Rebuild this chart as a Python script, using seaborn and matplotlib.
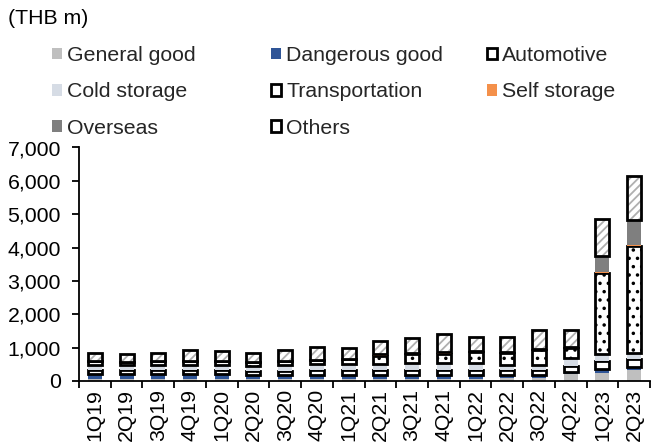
import numpy as np
import matplotlib
matplotlib.use("Agg")
import matplotlib.pyplot as plt
import seaborn as sns
from matplotlib.patches import Patch
from matplotlib.ticker import FixedLocator, FuncFormatter

quarters = ["1Q19", "2Q19", "3Q19", "4Q19", "1Q20", "2Q20", "3Q20", "4Q20", "1Q21",
            "2Q21", "3Q21", "4Q21", "1Q22", "2Q22", "3Q22", "4Q22", "1Q23", "2Q23"]
general_good   = [70, 70, 70, 70, 70, 60, 60, 60, 60, 60, 60, 60, 70, 80, 80, 200, 250, 330]
dangerous_good = [130, 130, 130, 130, 130, 120, 120, 130, 130, 120, 120, 120, 110, 110, 110, 80, 100, 100]
automotive     = [140, 130, 130, 130, 140, 110, 130, 130, 140, 150, 150, 150, 150, 150, 140, 170, 250, 230]
cold_storage   = [130, 140, 140, 150, 150, 170, 180, 180, 170, 170, 200, 200, 200, 150, 160, 230, 220, 190]
transportation = [130, 110, 120, 120, 120, 120, 120, 120, 150, 260, 280, 290, 330, 350, 430, 300, 2430, 3200]
self_storage   = [0, 0, 0, 0, 0, 0, 0, 0, 0, 40, 40, 50, 30, 20, 50, 40, 30, 20]
overseas       = [0, 0, 0, 0, 0, 0, 0, 0, 0, 0, 0, 0, 0, 0, 0, 0, 480, 750]
others         = [250, 220, 260, 340, 300, 250, 330, 400, 330, 400, 450, 530, 420, 470, 550, 500, 1100, 1330]
y_ticks = [0, 1000, 2000, 3000, 4000, 5000, 6000, 7000]

C_GG = "#BFBFBF"
C_DG = "#2F5597"
C_COLD = "#D6DCE5"
C_SELF = "#F4904A"
C_OVS = "#7F7F7F"

sns.set_theme(style="white")
plt.rcParams["font.family"] = ["Liberation Sans", "DejaVu Sans"]
plt.rcParams["hatch.linewidth"] = 1.3

FS = 15.3
W = 0.44
LW = 2.0

fig = plt.figure(figsize=(6.51, 4.47), dpi=100)
ax = fig.add_axes([79 / 651, 1 - 381 / 447, (650 - 79) / 651, (381 - 147.5) / 447])

layers = [
    (general_good, [dict(color=C_GG, linewidth=0)]),
    (dangerous_good, [dict(color=C_DG, linewidth=0)]),
    (automotive, [dict(color="white", edgecolor="black", linewidth=LW)]),
    (cold_storage, [dict(color=C_COLD, linewidth=0)]),
    (transportation, [dict(color="white", edgecolor="black", hatch="..", linewidth=LW)]),
    (self_storage, [dict(color=C_SELF, linewidth=0)]),
    (overseas, [dict(color=C_OVS, linewidth=0)]),
    (others, [dict(color="white", edgecolor="#B0B0B0", hatch="////", linewidth=0),
              dict(color="black", fill=False, linewidth=LW)]),
]

bottom = np.zeros(len(quarters))
for vals, styles in layers:
    for st in styles:
        sns.barplot(x=quarters, y=vals, ax=ax, width=W, errorbar=None,
                    saturation=1, bottom=bottom, **st)
    bottom = bottom + np.array(vals)

ax.set_ylim(0, 7000)
ax.set_xlim(-0.5, len(quarters) - 0.5)
ax.yaxis.set_major_locator(FixedLocator(y_ticks))
ax.yaxis.set_major_formatter(FuncFormatter(lambda v, p: f"{int(v):,}"))
ax.set_xticks(range(len(quarters)))
ax.set_xticklabels(quarters, rotation=90, fontsize=FS)
ax.xaxis.set_minor_locator(FixedLocator(np.arange(-0.5, len(quarters), 1.0)))
ax.tick_params(axis="x", which="major", length=0, pad=6, labelsize=FS, colors="black")
ax.tick_params(axis="x", which="minor", length=5, width=1.3, direction="out", bottom=True, color="black")
ax.tick_params(axis="y", which="major", length=5, width=1.3, direction="out", left=True,
               pad=8, labelsize=FS, colors="black")
for s in ["top", "right"]:
    ax.spines[s].set_visible(False)
for s in ["left", "bottom"]:
    ax.spines[s].set_color("black")
    ax.spines[s].set_linewidth(1.3)
ax.set_xlabel("")
ax.set_ylabel("")
ax.grid(False)

fig.text(8 / 651, 1 - 18 / 447, "(THB m)", fontsize=FS, va="center", ha="left", color="black")

cols = [
    (52, [(Patch(facecolor=C_GG, edgecolor="none"), "General good"),
          (Patch(facecolor=C_COLD, edgecolor="none"), "Cold storage"),
          (Patch(facecolor=C_OVS, edgecolor="none"), "Overseas")]),
    (271, [(Patch(facecolor=C_DG, edgecolor="none"), "Dangerous good"),
           (Patch(facecolor="white", edgecolor="black", linewidth=LW), "Transportation"),
           (Patch(facecolor="white", edgecolor="black", linewidth=LW), "Others")]),
    (487, [(Patch(facecolor="white", edgecolor="black", linewidth=LW), "Automotive"),
           (Patch(facecolor=C_SELF, edgecolor="none"), "Self storage")]),
]
for xpx, items in cols:
    fig.legend([h for h, _ in items], [l for _, l in items], loc="upper left",
               bbox_to_anchor=(xpx / 651, 1 - 46 / 447), frameon=False, fontsize=FS,
               handlelength=0.47, handleheight=0.47, handletextpad=0.25,
               labelspacing=0.82, borderpad=0, borderaxespad=0)

fig.savefig("out.png", dpi=100)
